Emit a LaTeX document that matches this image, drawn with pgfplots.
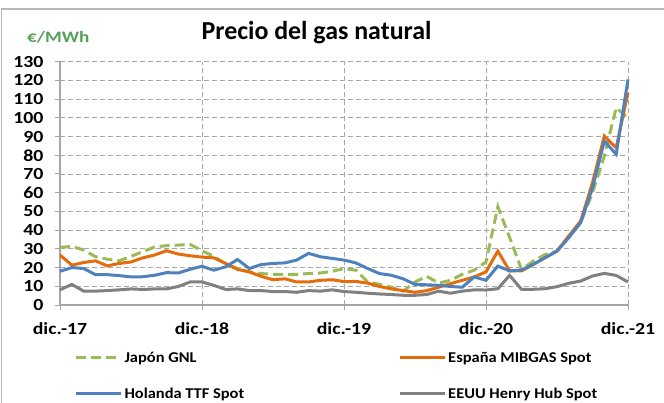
\documentclass[border=0pt]{standalone}
\usepackage{pgfplots}
\pgfplotsset{compat=1.18}
\usepackage{fontspec}
\setmainfont{Carlito}
\definecolor{cJ}{HTML}{9BBB59}
\definecolor{cE}{HTML}{E46C0A}
\definecolor{cH}{HTML}{4F81BD}
\definecolor{cU}{HTML}{808080}
\definecolor{cunit}{HTML}{56A05A}
\definecolor{cgrid}{HTML}{A6A6A6}
\newcommand{\sx}[1]{\scalebox{1.17}[1]{#1}}
\newcommand{\lx}[1]{\scalebox{1.1}[1]{#1}}
\begin{document}
\begin{tikzpicture}
\useasboundingbox (0,0) rectangle (664bp,-403bp);
\draw[cgrid!80, line width=1.5bp] (1.5bp,-403bp) -- (1.5bp,-9bp) -- (664bp,-9bp);
\node[anchor=base, font=\fontsize{26}{26}\selectfont\bfseries] at (316.5bp,-39.3bp) {Precio del gas natural};
\node[anchor=base west, inner sep=0pt, text=cunit, font=\fontsize{16}{16}\selectfont\bfseries] at (27bp,-42.7bp) {\scalebox{1.2}[1]{€/MWh}};
\begin{axis}[
  at={(60bp,-305bp)}, anchor=south west,
  scale only axis, width=568bp, height=243.3bp,
  xmin=0, xmax=48, ymin=0, ymax=130,
  ytick distance=10,
  xtick={0,12,24,36,48},
  xticklabels={\sx{dic.-17},\sx{dic.-18},\sx{dic.-19},\sx{dic.-20},\sx{dic.-21}},
  yticklabel={\sx{\pgfmathprintnumber{\tick}}},
  axis x line*=bottom, axis y line*=left,
  axis line style={cgrid, line width=1.2bp},
  tick align=outside, major tick length=5bp,
  tick style={cgrid, line width=1bp},
  grid=major,
  grid style={cgrid, dash pattern=on 5bp off 3bp, line width=0.8bp},
  ticklabel style={font=\fontsize{17}{17}\selectfont\bfseries},
  yticklabel style={xshift=-8bp},
  xticklabel style={yshift=-9bp},
  /pgf/number format/assume math mode=true,
  clip=false,
  legend columns=2,
  legend cell align=left,
  legend image code/.code={\draw[#1] (0bp,0bp) -- (45bp,0bp);},
  legend style={at={(axis description cs:0.02,-0.175)}, anchor=north west,
    draw=none, fill=none, font=\fontsize{15}{15}\selectfont\bfseries,
    row sep=20bp,
    /tikz/every even column/.append style={column sep=152bp}},
]
\addplot[cJ, line width=3bp, dash pattern=on 10bp off 5bp] coordinates {
(0,30.8)(1,31.3)(2,29.4)(3,25.8)(4,24.5)(5,23.6)(6,26)(7,28.5)(8,31)(9,31.7)(10,32)(11,32.4)
(12,29)(13,26)(14,22)(15,19.5)(16,17.7)(17,16.8)(18,16.4)(19,16.4)(20,16.4)(21,16.8)(22,17.1)(23,18)
(24,19.5)(25,18.6)(26,12.3)(27,11)(28,9.5)(29,7.4)(30,12.3)(31,15.3)(32,11.7)(33,13.2)(34,16.4)(35,18.6)
(36,23)(37,52.5)(38,36)(39,19)(40,23.5)(41,27)(42,28.8)(43,36.9)(44,44)(45,60)(46,79.6)(47,105.4)(48,100)};
\addlegendentry{\lx{Japón GNL}}
\addplot[cE, line width=3bp] coordinates {
(0,26.7)(1,21.3)(2,22.7)(3,23.6)(4,20.9)(5,22.2)(6,23)(7,25.2)(8,26.7)(9,29)(10,27.2)(11,26.3)
(12,25.6)(13,25.2)(14,22.2)(15,19)(16,17.7)(17,15.3)(18,13.5)(19,14)(20,12.3)(21,12.3)(22,13.2)(23,13.5)
(24,12.5)(25,12.6)(26,11.7)(27,9.9)(28,8.6)(29,7.7)(30,6.8)(31,7.7)(32,9.5)(33,11.4)(34,13.2)(35,15)
(36,17.7)(37,28.8)(38,18.2)(39,18.2)(40,21.7)(41,25.3)(42,28.8)(43,36.9)(44,44.9)(45,65.3)(46,90.3)(47,84)(48,113.4)};
\addlegendentry{\lx{España MIBGAS Spot}}
\addplot[cH, line width=3bp] coordinates {
(0,18)(1,20)(2,19.5)(3,16.2)(4,16.2)(5,15.7)(6,15)(7,15.1)(8,15.9)(9,17.3)(10,17.1)(11,19.1)
(12,20.7)(13,18.6)(14,20.4)(15,24.3)(16,19.5)(17,21.6)(18,22.2)(19,22.5)(20,24)(21,27.6)(22,25.8)(23,24.9)
(24,24)(25,22.5)(26,19.5)(27,16.8)(28,15.9)(29,14)(30,11)(31,10.8)(32,10.5)(33,9.9)(34,9.5)(35,15)
(36,13.2)(37,20.8)(38,18.2)(39,18.7)(40,21.7)(41,25.3)(42,28.8)(43,36)(44,44)(45,62.7)(46,87.6)(47,80.5)(48,120.5)};
\addlegendentry{\lx{Holanda TTF Spot}}
\addplot[cU, line width=3bp] coordinates {
(0,8.1)(1,11)(2,7.4)(3,7.4)(4,7.7)(5,8.1)(6,8.6)(7,8.3)(8,8.6)(9,8.6)(10,9.9)(11,12.3)
(12,12.3)(13,10.5)(14,8.3)(15,8.6)(16,7.7)(17,7.7)(18,7.2)(19,7.2)(20,6.8)(21,7.7)(22,7.4)(23,8.1)
(24,7.2)(25,6.8)(26,6.3)(27,5.9)(28,5.6)(29,5.2)(30,5.2)(31,5.6)(32,7.4)(33,6.3)(34,7.4)(35,8.1)
(36,8)(37,8.7)(38,15.8)(39,8.4)(40,8.4)(41,8.7)(42,9.8)(43,11.6)(44,12.8)(45,15.5)(46,16.9)(47,15.8)(48,12.3)};
\addlegendentry{\lx{EEUU Henry Hub Spot}}
\end{axis}
\end{tikzpicture}
\end{document}
